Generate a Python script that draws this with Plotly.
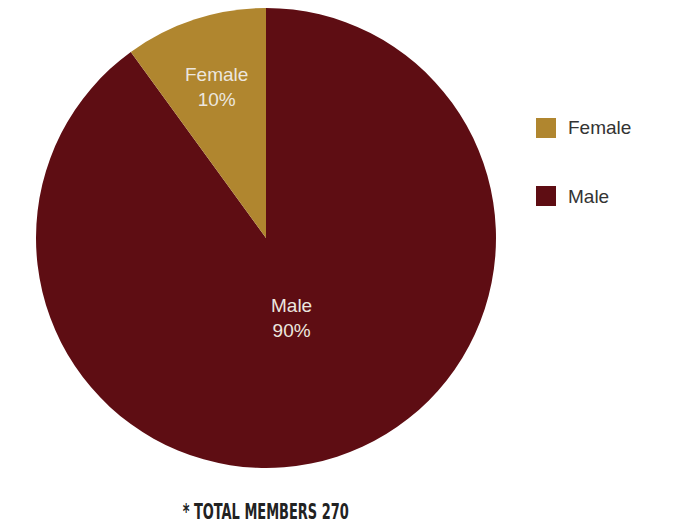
import math
import plotly.graph_objects as go

# Membership breakdown
labels = ["Female", "Male"]
members = [27, 243]
colors = ["#b0862f", "#5e0d13"]
total_label = "* TOTAL MEMBERS 270"

W, H = 677, 524
CX, CY, R = 266, 238, 230          # pie centre and radius in pixels
label_radius = [0.69, 0.365]       # where each slice label sits, as a fraction of R

# Female sits just counterclockwise of 12 o'clock, so the slices are drawn
# clockwise starting with Male.
order = [1, 0]
fig = go.Figure(
    go.Pie(
        labels=[labels[i] for i in order],
        values=[members[i] for i in order],
        sort=False,
        direction="clockwise",
        rotation=0,
        marker=dict(colors=[colors[i] for i in order], line=dict(width=0)),
        textinfo="none",
        hoverinfo="label+value+percent",
        domain=dict(x=[(CX - R) / W, (CX + R) / W], y=[1 - (CY + R) / H, 1 - (CY - R) / H]),
        showlegend=False,
    )
)

shapes = []
annotations = []

# Slice labels, placed along each slice's middle angle (counterclockwise from 12 o'clock)
total = sum(members)
start = 0.0
for lab, val, frac in zip(labels, members, label_radius):
    share = val / total
    mid = (start + share / 2) * 2 * math.pi
    start += share
    px = CX - frac * R * math.sin(mid)
    py = CY - frac * R * math.cos(mid)
    annotations.append(dict(
        x=px / W, y=1 - py / H, xref="paper", yref="paper",
        text=f"{lab}<br>{share:.0%}", showarrow=False, xanchor="center", yanchor="middle",
        font=dict(family="Liberation Sans, Arial, sans-serif", size=19, color="#ece6df"),
    ))

# Legend swatches and labels
for i, (lab, col) in enumerate(zip(labels, colors)):
    yc = 128 + 68 * i
    shapes.append(dict(
        type="rect", xref="paper", yref="paper",
        x0=536 / W, x1=556 / W, y0=1 - (yc + 10) / H, y1=1 - (yc - 10) / H,
        fillcolor=col, line=dict(width=0),
    ))
    annotations.append(dict(
        x=566 / W, y=1 - yc / H, xref="paper", yref="paper",
        text=lab, showarrow=False, xanchor="left", yanchor="middle",
        font=dict(family="Liberation Sans, Arial, sans-serif", size=19, color="#333333"),
    ))

annotations.append(dict(
    x=265 / W, y=1 - 511 / H, xref="paper", yref="paper",
    text=f"<b>{total_label}</b>", showarrow=False, xanchor="center", yanchor="middle",
    borderpad=0,
    font=dict(family="DejaVu Sans Condensed, Liberation Sans Narrow, sans-serif", size=22, color="#222222"),
))

fig.update_layout(
    width=W, height=H,
    margin=dict(l=0, r=0, t=0, b=0),
    paper_bgcolor="white",
    plot_bgcolor="white",
    shapes=shapes,
    annotations=annotations,
)

# Squeeze the footer into a narrow, poster-style caption
condense_caption = """
document.querySelectorAll('.annotation-text').forEach(function (el) {
  if (el.textContent.indexOf('TOTAL MEMBERS') >= 0) {
    el.setAttribute('textLength', '166');
    el.setAttribute('lengthAdjust', 'spacingAndGlyphs');
  }
});
"""

fig.write_html("out.html", post_script=condense_caption)
